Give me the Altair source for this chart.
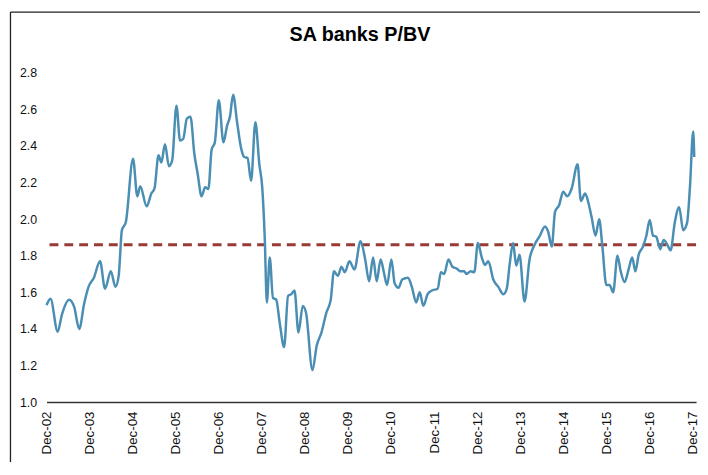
import altair as alt
import pandas as pd

# months since Dec-02 and P/BV values
months = [0, 1.1, 3.1, 4.3, 6.3, 7.7, 9.1, 10.5, 11.7, 13.2, 14.9, 16.3, 17.9, 19.2, 20.1, 21.0, 22.1,
          24.1, 25.3, 26.1, 27.9, 29.2, 30.1, 31.2, 32.0, 33.0, 34.1, 35.0, 36.2, 37.2, 38.1, 39.1, 40.1,
          41.2, 42.1, 43.2, 44.2, 45.1, 46.0, 46.9, 48.0, 49.3, 50.3, 51.1, 52.0, 53.1, 54.2, 55.1, 56.0,
          57.0, 58.2, 59.3, 60.1, 60.8, 61.4, 62.2, 63.1, 64.0, 65.0, 66.2, 67.3, 68.2, 69.1, 70.2, 71.4,
          72.3, 74.1, 75.3, 76.6, 78.0, 79.2, 80.1, 81.2, 82.2, 83.1, 84.4, 85.8, 87.5, 88.8, 89.9, 91.0,
          92.0, 93.1, 94.0, 94.9, 96.1, 97.0, 98.1, 99.1, 100.7, 101.8, 103.0, 104.0, 105.0, 106.2, 107.4,
          109.0, 109.9, 110.8, 112.0, 113.1, 114.3, 115.4, 116.4, 117.0, 118.2, 119.2, 120.2, 121.3, 122.2,
          123.1, 124.5, 125.9, 127.3, 128.2, 129.1, 130.0, 130.9, 131.8, 133.2, 134.6, 136.0, 137.5, 138.9,
          139.8, 140.8, 141.7, 142.8, 144.0, 145.1, 146.3, 148.0, 148.9, 150.1, 151.0, 151.9, 153.0, 154.0,
          154.9, 156.0, 156.9, 157.9, 159.1, 160.0, 161.1, 162.2, 163.2, 164.1, 165.0, 166.2, 167.1, 168.1,
          169.0, 169.9, 171.0, 172.0, 173.0, 173.9, 175.1, 176.3, 177.4, 178.5, 179.3, 180.2, 180.5]
pbv = [1.53, 1.565, 1.385, 1.48, 1.56, 1.52, 1.40, 1.54, 1.63, 1.68, 1.77, 1.62, 1.715, 1.63, 1.69, 1.94, 1.985,
       2.33, 2.125, 2.18, 2.07, 2.14, 2.17, 2.35, 2.31, 2.41, 2.29, 2.32, 2.62, 2.43, 2.44, 2.55, 2.56,
       2.355, 2.25, 2.125, 2.175, 2.165, 2.38, 2.42, 2.65, 2.42, 2.51, 2.56, 2.68, 2.53, 2.39, 2.34, 2.335,
       2.21, 2.53, 2.30, 2.175, 1.90, 1.545, 1.79, 1.57, 1.56, 1.43, 1.30, 1.58, 1.59, 1.61, 1.38, 1.526,
       1.49, 1.175, 1.31, 1.38, 1.49, 1.56, 1.715, 1.69, 1.74, 1.71, 1.77, 1.725, 1.88, 1.78, 1.66, 1.79,
       1.66, 1.78, 1.71, 1.64, 1.78, 1.65, 1.625, 1.67, 1.68, 1.63, 1.545, 1.60, 1.526, 1.59, 1.61,
       1.62, 1.71, 1.70, 1.78, 1.74, 1.73, 1.715, 1.715, 1.70, 1.715, 1.71, 1.87, 1.79, 1.75,
       1.77, 1.67, 1.63, 1.59, 1.616, 1.76, 1.87, 1.746, 1.805, 1.55, 1.78, 1.86, 1.91, 1.96,
       1.93, 1.85, 2.04, 2.075, 2.15, 2.125, 2.165, 2.30, 2.10, 2.14, 2.09, 2.01, 1.91, 2.00,
       1.85, 1.64, 1.64, 1.60, 1.80, 1.715, 1.656, 1.725, 1.79, 1.715, 1.805, 1.85, 1.905, 1.995,
       1.91, 1.905, 1.836, 1.886, 1.86, 1.83, 1.985, 2.066, 1.94, 1.98, 2.175, 2.48, 2.34]

average_pbv = [1.86]
tick_months = [0, 12, 24, 36, 48, 60, 72, 84, 96, 108, 120, 132, 144, 156, 168, 180]
tick_labels = ["Dec-02", "Dec-03", "Dec-04", "Dec-05", "Dec-06", "Dec-07", "Dec-08", "Dec-09",
               "Dec-10", "Dec-11", "Dec-12", "Dec-13", "Dec-14", "Dec-15", "Dec-16", "Dec-17"]
y_ticks = [1.0, 1.2, 1.4, 1.6, 1.8, 2.0, 2.2, 2.4, 2.6, 2.8]
title_text = ["SA banks P/BV"]

df = pd.DataFrame({"m": months, "v": pbv})
label_expr = "[" + ",".join(f"'{t}'" for t in tick_labels) + "][round(datum.value / 12)]"

FONT = "Liberation Sans"

y_scale = alt.Scale(domain=[1.0, 2.8], nice=False, zero=False)
y_axis = alt.Axis(values=y_ticks, format=".1f", ticks=False, grid=False, domain=False,
                  labelFontSize=12.5, labelFont=FONT, labelColor="#111111",
                  labelPadding=10, labelOverlap=False, title=None)

line = alt.Chart(df).mark_line(color="#4A8EB4", strokeWidth=2.5, interpolate="monotone").encode(
    x=alt.X("m:Q",
            scale=alt.Scale(domain=[0, 181], nice=False, zero=False),
            axis=alt.Axis(values=tick_months, labelExpr=label_expr, labelAngle=-90,
                          labelAlign="right", labelBaseline="middle", ticks=False, grid=False,
                          domainColor="#333333", domainWidth=1.5, labelFontSize=13.5, labelFont=FONT,
                          labelColor="#111111", labelPadding=9, labelOverlap=False, title=None)),
    y=alt.Y("v:Q", scale=y_scale, axis=y_axis),
)

avg = alt.Chart(pd.DataFrame({"v": average_pbv})).mark_rule(
    color="#963B35", strokeWidth=3, strokeDash=[9, 6]
).encode(y=alt.Y("v:Q", scale=y_scale, axis=y_axis))

frame_df = pd.DataFrame({"a": [0]})
frame_top = alt.Chart(frame_df).mark_rule(color="#222222", strokeWidth=1.3).encode(
    x=alt.value(-36.5), x2=alt.value(720), y=alt.value(-61.5))
frame_left = alt.Chart(frame_df).mark_rule(color="#222222", strokeWidth=1.3).encode(
    x=alt.value(-36.5), y=alt.value(-61.5), y2=alt.value(500))

title = alt.Chart(pd.DataFrame({"t": title_text})).mark_text(
    font=FONT, fontSize=20, fontWeight="bold", color="#000000",
    align="center", baseline="middle"
).encode(text="t:N", x=alt.value(317), y=alt.value(-38))

chart = alt.layer(frame_top, frame_left, avg, line, title).properties(
    width=657,
    height=333,
    autosize=alt.AutoSizeParams(type="none"),
    padding={"left": 39, "top": 63, "right": 4, "bottom": 58},
    background="white",
).configure_view(stroke=None)

chart.save("out.html", embed_options={"renderer": "svg", "actions": False})
